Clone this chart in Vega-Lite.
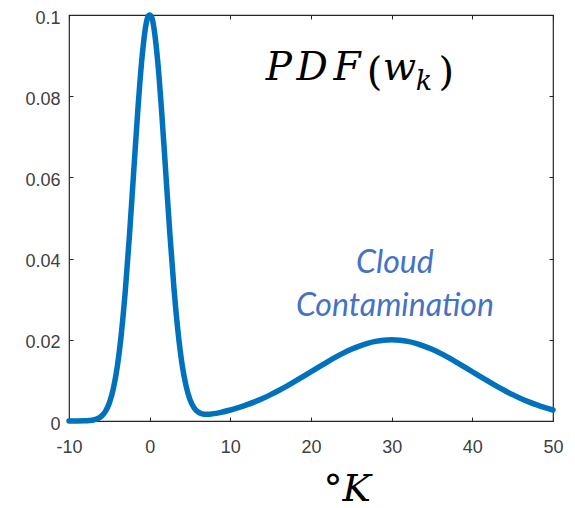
{
  "$schema": "https://vega.github.io/schema/vega-lite/v6.json",
  "width": 484,
  "height": 406,
  "autosize": {"type": "none"},
  "padding": {"left": 69, "top": 15, "right": 22, "bottom": 87},
  "background": "white",
  "config": {
    "view": {"stroke": "#262626", "strokeWidth": 1.2},
    "axis": {
      "grid": false,
      "domain": false,
      "tickColor": "#262626",
      "tickSize": -4,
      "tickWidth": 1,
      "labelFont": "Liberation Sans",
      "labelFontSize": 18,
      "labelColor": "#404040",
      "labelFlush": false,
      "labelOverlap": false
    }
  },
  "datasets": {
    "curve": [
      {"x": -10, "y": 0.00001}, {"x": -9, "y": 0.00001}, {"x": -8, "y": 0.00005},
      {"x": -7.5, "y": 0.00011}, {"x": -7, "y": 0.00024}, {"x": -6.5, "y": 0.00054},
      {"x": -6, "y": 0.00114}, {"x": -5.5, "y": 0.00232}, {"x": -5, "y": 0.00443},
      {"x": -4.5, "y": 0.00801}, {"x": -4, "y": 0.01359}, {"x": -3.5, "y": 0.0217},
      {"x": -3, "y": 0.03255}, {"x": -2.5, "y": 0.04588}, {"x": -2, "y": 0.06077},
      {"x": -1.5, "y": 0.07562}, {"x": -1, "y": 0.08841}, {"x": -0.5, "y": 0.09711},
      {"x": -0.25, "y": 0.09942}, {"x": 0, "y": 0.1}, {"x": 0.25, "y": 0.09946},
      {"x": 0.5, "y": 0.09718}, {"x": 1, "y": 0.08855}, {"x": 1.5, "y": 0.07582},
      {"x": 2, "y": 0.06105}, {"x": 2.5, "y": 0.04624}, {"x": 3, "y": 0.03299},
      {"x": 3.5, "y": 0.02223}, {"x": 4, "y": 0.01421}, {"x": 4.5, "y": 0.00874},
      {"x": 5, "y": 0.00527}, {"x": 5.5, "y": 0.00328}, {"x": 6, "y": 0.00223},
      {"x": 6.5, "y": 0.00178}, {"x": 7, "y": 0.00164}, {"x": 7.5, "y": 0.00169},
      {"x": 8, "y": 0.00181}, {"x": 9, "y": 0.00221}, {"x": 10, "y": 0.00271},
      {"x": 11, "y": 0.00329}, {"x": 12, "y": 0.00396}, {"x": 13, "y": 0.00472},
      {"x": 14, "y": 0.00556}, {"x": 15, "y": 0.00649}, {"x": 16, "y": 0.00751},
      {"x": 17, "y": 0.00859}, {"x": 18, "y": 0.00974}, {"x": 19, "y": 0.01092},
      {"x": 20, "y": 0.01213}, {"x": 21, "y": 0.01334}, {"x": 22, "y": 0.01452},
      {"x": 23, "y": 0.01565}, {"x": 24, "y": 0.01671}, {"x": 25, "y": 0.01765},
      {"x": 26, "y": 0.01846}, {"x": 27, "y": 0.01912}, {"x": 28, "y": 0.0196},
      {"x": 29, "y": 0.0199}, {"x": 30, "y": 0.02}, {"x": 31, "y": 0.0199},
      {"x": 32, "y": 0.0196}, {"x": 33, "y": 0.01912}, {"x": 34, "y": 0.01846},
      {"x": 35, "y": 0.01765}, {"x": 36, "y": 0.01671}, {"x": 37, "y": 0.01565},
      {"x": 38, "y": 0.01452}, {"x": 39, "y": 0.01334}, {"x": 40, "y": 0.01213},
      {"x": 41, "y": 0.01092}, {"x": 42, "y": 0.00974}, {"x": 43, "y": 0.00859},
      {"x": 44, "y": 0.00751}, {"x": 45, "y": 0.00649}, {"x": 46, "y": 0.00556},
      {"x": 47, "y": 0.00472}, {"x": 48, "y": 0.00396}, {"x": 49, "y": 0.00329},
      {"x": 50, "y": 0.00271}
    ],
    "labels": [
      {"part": "pdf", "t": "P", "x": 14.4, "y": 0.084},
      {"part": "pdf", "t": "D", "x": 18.2, "y": 0.084},
      {"part": "pdf", "t": "F", "x": 22.8, "y": 0.084},
      {"part": "paren", "t": "(", "x": 26.9, "y": 0.0828},
      {"part": "pdf", "t": "w", "x": 28.9, "y": 0.084},
      {"part": "sub", "t": "k", "x": 33.0, "y": 0.0815},
      {"part": "paren", "t": ")", "x": 35.8, "y": 0.0828},
      {"part": "blue", "t": "Cloud", "x": 30.4, "y": 0.03645},
      {"part": "blue", "t": "Contamination", "x": 30.4, "y": 0.02586}
    ]
  },
  "layer": [
    {
      "data": {"name": "curve"},
      "mark": {"type": "line", "color": "#0072BD", "strokeWidth": 5.5, "interpolate": "monotone", "strokeCap": "round", "clip": false},
      "encoding": {
        "x": {
          "field": "x", "type": "quantitative",
          "scale": {"domain": [-10, 50], "nice": false, "zero": false},
          "axis": {
            "values": [-10, 0, 10, 20, 30, 40, 50],
            "labelExpr": "toString(datum.value)",
            "labelPadding": 21,
            "title": "°K",
            "titleFont": "DejaVu Serif",
            "titleFontStyle": "italic",
            "titleFontWeight": "normal",
            "titleFontSize": 38,
            "titleColor": "black",
            "titleAlign": "left",
            "titleBaseline": "alphabetic",
            "titleX": 254,
            "titleY": 79
          }
        },
        "y": {
          "field": "y", "type": "quantitative",
          "scale": {"domain": [0, 0.1], "nice": false},
          "axis": {
            "values": [0, 0.02, 0.04, 0.06, 0.08, 0.1],
            "format": "~g",
            "labelPadding": 13,
            "labelOffset": 3,
            "title": null
          }
        }
      }
    },
    {
      "data": {"name": "labels"},
      "transform": [{"filter": "datum.part === 'pdf'"}],
      "mark": {"type": "text", "font": "DejaVu Serif", "fontStyle": "italic", "fontSize": 39, "align": "left", "baseline": "alphabetic", "color": "black"},
      "encoding": {
        "x": {"field": "x", "type": "quantitative", "axis": {"orient": "top", "labels": false, "values": [-10, 0, 10, 20, 30, 40, 50], "title": null}},
        "y": {"field": "y", "type": "quantitative", "axis": {"orient": "right", "labels": false, "values": [0, 0.02, 0.04, 0.06, 0.08, 0.1], "title": null}},
        "text": {"field": "t"}
      }
    },
    {
      "data": {"name": "labels"},
      "transform": [{"filter": "datum.part === 'sub'"}],
      "mark": {"type": "text", "font": "DejaVu Serif", "fontStyle": "italic", "fontSize": 27, "align": "left", "baseline": "alphabetic", "color": "black"},
      "encoding": {
        "x": {"field": "x", "type": "quantitative", "axis": null},
        "y": {"field": "y", "type": "quantitative", "axis": null},
        "text": {"field": "t"}
      }
    },
    {
      "data": {"name": "labels"},
      "transform": [{"filter": "datum.part === 'paren'"}],
      "mark": {"type": "text", "font": "DejaVu Serif", "fontSize": 40, "align": "left", "baseline": "alphabetic", "color": "black"},
      "encoding": {
        "x": {"field": "x", "type": "quantitative", "axis": null},
        "y": {"field": "y", "type": "quantitative", "axis": null},
        "text": {"field": "t"}
      }
    },
    {
      "data": {"name": "labels"},
      "transform": [{"filter": "datum.part === 'blue'"}],
      "mark": {"type": "text", "font": "Lato", "fontStyle": "italic", "fontSize": 32, "align": "center", "baseline": "alphabetic", "color": "#4472C4"},
      "encoding": {
        "x": {"field": "x", "type": "quantitative", "axis": null},
        "y": {"field": "y", "type": "quantitative", "axis": null},
        "text": {"field": "t"}
      }
    }
  ],
  "resolve": {"axis": {"x": "independent", "y": "independent"}}
}
